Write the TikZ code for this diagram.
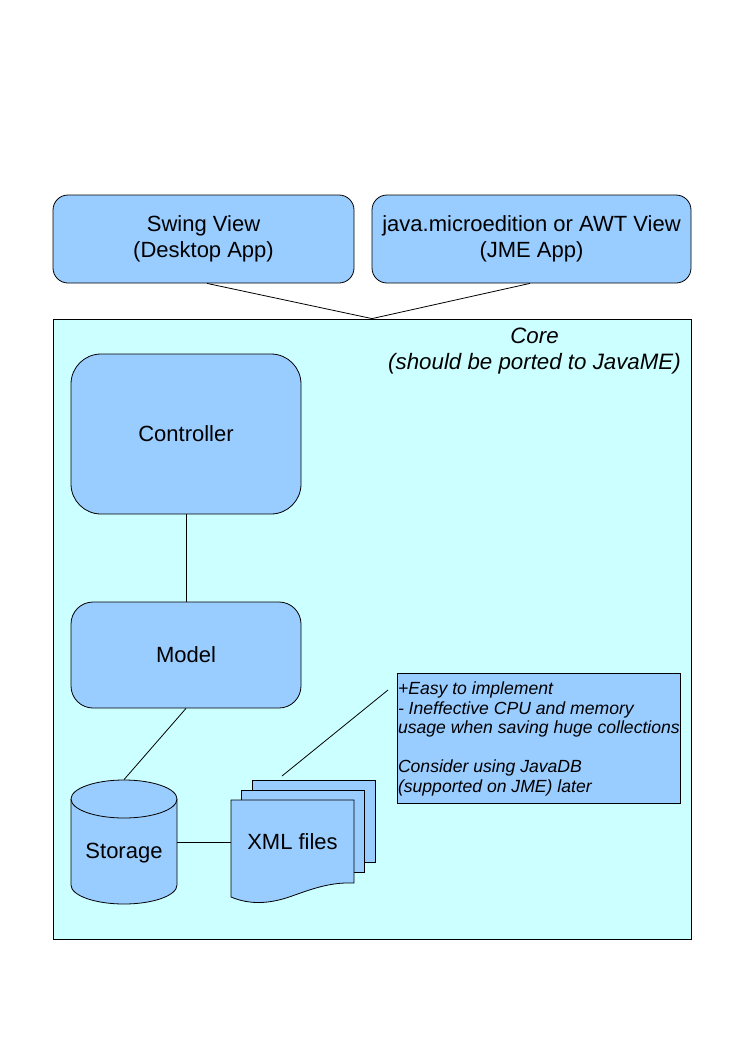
\documentclass[tikz,border=0pt]{standalone}
\usepackage{fontspec}
\setmainfont{Liberation Sans}
\definecolor{boxblue}{HTML}{99CCFF}
\definecolor{corecyan}{HTML}{CCFFFF}

\begin{document}
\begin{tikzpicture}[x=1pt,y=-1pt,line width=0.8pt,
  bigfont/.style={font=\fontsize{22}{26}\selectfont},
  box/.style={draw,fill=boxblue,align=center,bigfont},
  page/.style={draw,fill=boxblue}]
\useasboundingbox (0,0) rectangle (744,1052);
\node[draw,fill=corecyan,minimum width=638pt,minimum height=620pt,inner sep=0pt] (core) at (372,629) {};
\node[align=center,font={\itshape\fontsize{22.3}{26}\selectfont}] (corelabel) at (534.5,351) {Core\\(should be ported to JavaME)};
\node[box,rounded corners=15pt,minimum width=301pt,minimum height=88pt] (swing) at (203.5,239) {Swing View\\(Desktop App)};
\node[box,rounded corners=15pt,minimum width=319pt,minimum height=88pt] (jme) at (531.5,239) {java.microedition or AWT View\\(JME App)};
\draw ([xshift=3.5pt]swing.south) -- (core.north) -- ([xshift=-1.5pt]jme.south);
\node[box,rounded corners=30pt,minimum width=230pt,minimum height=160pt] (controller) at (186,434) {Controller};
\node[box,rounded corners=22pt,minimum width=230pt,minimum height=106pt] (model) at (186,655) {Model};
\draw (controller.south) -- (model.south |- model.north);
\draw[fill=boxblue] (71,799) -- (71,885) arc[start angle=180,end angle=360,x radius=53pt,y radius=19pt]
  -- (177,799) arc[start angle=0,end angle=180,x radius=53pt,y radius=19pt] -- cycle;
\draw (71,799) arc[start angle=180,end angle=360,x radius=53pt,y radius=19pt];
\node[minimum width=106pt,minimum height=124pt,inner sep=0pt,
  label={[bigfont,yshift=-11pt]center:Storage}] (storage) at (124,842) {};
\draw (model.south) -- (storage.north);
\draw[page] (252,780) rectangle (375,862);
\draw[page] (241.5,790) rectangle (364.5,872.5);
\draw[page] (231,800) -- (354,800) -- (354,883) .. controls (330,882) and (312,889) .. (292,896)
  .. controls (270,904) and (250,905) .. (231,897) -- cycle;
\node[minimum width=123pt,minimum height=83pt,inner sep=0pt,bigfont] (xml) at (292.5,841.5) {XML files};
\draw (storage.east) -- (storage.east -| xml.west);
\node[draw,fill=boxblue,minimum width=283pt,minimum height=130pt,inner sep=0pt] (note) at (538.5,738) {};
\node[anchor=west,align=flush left,inner xsep=1pt,inner ysep=0pt,
  font={\itshape\fontsize{17.6}{19.5}\selectfont}] (notetext) at ([yshift=-1pt]note.west)
  {+Easy to implement\\- Ineffective CPU and memory\\usage when saving huge collections\\[19.5pt]Consider using JavaDB\\(supported on JME) later};
\coordinate (calloutstart) at (388,690);
\coordinate (calloutend) at (282,776);
\draw (calloutstart) -- (calloutend);
\end{tikzpicture}
\end{document}
